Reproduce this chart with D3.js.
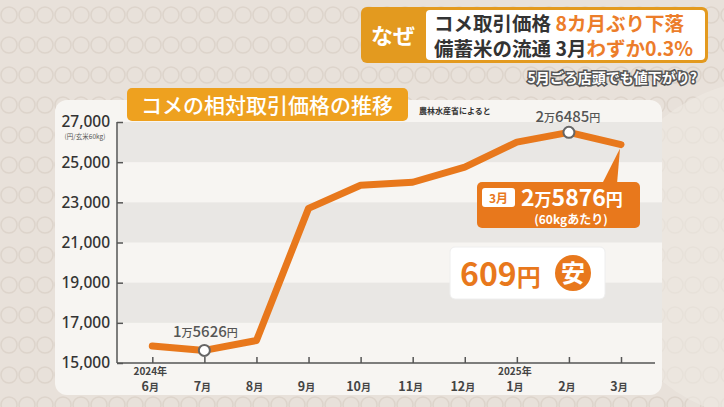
<!DOCTYPE html>
<html><head><meta charset="utf-8">
<script src="https://cdn.jsdelivr.net/npm/d3@7"></script>
<style>
html,body{margin:0;padding:0;background:#e9e3dc;}
svg{display:block;font-family:"Noto Sans CJK JP","Noto Sans",sans-serif;}
</style></head>
<body>
<svg id="c" width="724" height="407"></svg>
<script>
const months = ["6月","7月","8月","9月","10月","11月","12月","1月","2月","3月"];
const yearLabels = ["2024年","","","","","","","2025年","",""];
const prices = [15850, 15626, 16120, 22700, 23850, 24000, 24750, 26000, 26485, 25876];
const yTicks = [15000, 17000, 19000, 21000, 23000, 25000, 27000];
const markedIdx = [1, 8];

const svg = d3.select("#c");
const W = 724, H = 407;

// background
const defs = svg.append("defs");
const pat = defs.append("pattern").attr("id","circ").attr("width",36).attr("height",30).attr("patternUnits","userSpaceOnUse");
pat.append("rect").attr("width",36).attr("height",30).attr("fill","#e8e1da");
pat.append("circle").attr("cx",9).attr("cy",15).attr("r",8).attr("fill","none").attr("stroke","#ddd4cb").attr("stroke-width",1.5);
pat.append("circle").attr("cx",27).attr("cy",15).attr("r",8).attr("fill","none").attr("stroke","#ddd4cb").attr("stroke-width",1.5);
svg.append("rect").attr("width",W).attr("height",H).attr("fill","url(#circ)");
svg.append("circle").attr("cx",770).attr("cy",250).attr("r",170).attr("fill","#efe9e3").attr("opacity",0.6);

// panel
svg.append("rect").attr("x",55).attr("y",100).attr("width",607).attr("height",295).attr("rx",12)
  .attr("fill","#f7f5f2");

const x = d3.scalePoint().domain(d3.range(months.length)).range([152.3, 621]);
const y = d3.scaleLinear().domain([15000, 27000]).range([363, 122]);

// bands
for (let i = 0; i < yTicks.length - 1; i += 2) {
  const a = yTicks[yTicks.length - 1 - i], b = yTicks[yTicks.length - 2 - i];
  svg.append("rect").attr("x",118).attr("y",y(a)).attr("width",544).attr("height",y(b) - y(a))
    .attr("fill","#e9e7e4");
}

// axes
const yAxis = d3.axisLeft(y).tickValues(yTicks).tickSize(-6).tickPadding(8).tickFormat(d3.format(","));
const gy = svg.append("g").attr("transform","translate(117,0)").call(yAxis);
gy.select(".domain").attr("stroke","#555").attr("stroke-width",1.5).attr("d","M0,"+y(27000)+"V"+y(15000));
gy.selectAll(".tick line").attr("stroke","#555").attr("stroke-width",1.5);
gy.selectAll(".tick text").attr("font-size",15.5).attr("font-weight",500).attr("fill","#333")
  .attr("font-family","'Noto Sans','Noto Sans CJK JP',sans-serif").attr("x",-7);

const xAxis = d3.axisBottom(x).tickSize(-6).tickFormat(() => "");
const gx = svg.append("g").attr("transform","translate(0,363)").call(xAxis);
gx.select(".domain").attr("stroke","#555").attr("stroke-width",1.5).attr("d","M117,0H655");
gx.selectAll(".tick line").attr("stroke","#555").attr("stroke-width",1.5);

const xl = svg.append("g");
months.forEach((m, i) => {
  const t = xl.append("text").attr("x", x(i) - 2).attr("y", 391).attr("text-anchor","middle")
    .attr("font-size",12.5).attr("font-weight",700).attr("fill","#444");
  t.append("tspan").text(m.replace("月",""));
  t.append("tspan").attr("font-size",10).text("月");
  if (yearLabels[i]) {
    xl.append("text").attr("x", x(i) - 2).attr("y", 375).attr("text-anchor","middle")
      .attr("font-size",10).attr("font-weight",700).attr("fill","#444").text(yearLabels[i]);
  }
});

svg.append("text").attr("x",85).attr("y",139).attr("text-anchor","middle").attr("font-size",6.5)
  .attr("fill","#555").text("(円/玄米60kg)");

// line
const line = d3.line().x((d,i) => x(i)).y(d => y(d));
svg.append("path").datum(prices).attr("d", line).attr("fill","none")
  .attr("stroke","#e8781c").attr("stroke-width",7).attr("stroke-linejoin","round").attr("stroke-linecap","round");

markedIdx.forEach(i => {
  svg.append("circle").attr("cx", x(i)).attr("cy", y(prices[i])).attr("r",5.5)
    .attr("fill","#fff").attr("stroke","#666").attr("stroke-width",2);
});

function manLabel(txt, cx, cy) {
  const t = svg.append("text").attr("x",cx).attr("y",cy).attr("text-anchor","middle")
    .attr("font-size",15).attr("font-weight",500).attr("fill","#555");
  const parts = txt.match(/^(\d)万(\d+)円$/);
  t.append("tspan").text(parts[1]);
  t.append("tspan").attr("font-size",11).text("万");
  t.append("tspan").text(parts[2]);
  t.append("tspan").attr("font-size",11).text("円");
}
manLabel("1万5626円", x(1) + 1, 337);
manLabel("2万6485円", x(8) - 1, 122);

// title banner
svg.append("rect").attr("x",127).attr("y",88).attr("width",281).attr("height",33).attr("rx",5)
  .attr("fill","#eea11f");
svg.append("text").attr("x",267).attr("y",113).attr("text-anchor","middle").attr("font-size",21)
  .attr("font-weight",500).attr("fill","#fff").text("コメの相対取引価格の推移");
svg.append("text").attr("x",419).attr("y",114).attr("font-size",8).attr("font-weight",700)
  .attr("fill","#333").text("農林水産省によると");

// march callout
svg.append("path").attr("d",`M602,184 L${x(9)-1},${y(prices[9])+4} L617,184 Z`).attr("fill","#e8781c");
svg.append("rect").attr("x",477).attr("y",182).attr("width",163).attr("height",46).attr("rx",5).attr("fill","#e8781c");
svg.append("rect").attr("x",482).attr("y",188).attr("width",33).attr("height",19).attr("rx",3).attr("fill","#fff");
svg.append("text").attr("x",498.5).attr("y",202.5).attr("text-anchor","middle").attr("font-size",12)
  .attr("font-weight",700).attr("fill","#e8781c").text("3月");
const mt = svg.append("text").attr("x",521).attr("y",206).attr("font-size",23).attr("font-weight",700).attr("fill","#fff");
mt.append("tspan").text("2");
mt.append("tspan").attr("font-size",17).text("万");
mt.append("tspan").text("5876");
mt.append("tspan").attr("font-size",17).text("円");
svg.append("text").attr("x",571).attr("y",224).attr("text-anchor","middle").attr("font-size",12)
  .attr("font-weight",700).attr("fill","#fff").text("(60kgあたり)");

// 609 box
svg.append("rect").attr("x",450).attr("y",247).attr("width",155).attr("height",52).attr("rx",5)
  .attr("fill","#fff").attr("stroke","#eee");
const dt = svg.append("text").attr("x",460).attr("y",286).attr("font-size",32).attr("font-weight",700)
  .attr("fill","#e8781c");
dt.append("tspan").text("609");
dt.append("tspan").attr("font-size",24).text("円");
svg.append("circle").attr("cx",573).attr("cy",273).attr("r",18).attr("fill","#e8781c");
svg.append("text").attr("x",573).attr("y",282).attr("text-anchor","middle").attr("font-size",24)
  .attr("font-weight",700).attr("fill","#fff").text("安");

// header
svg.append("rect").attr("x",361).attr("y",7).attr("width",347).attr("height",56).attr("rx",6).attr("fill","#e39a1f");
svg.append("rect").attr("x",426).attr("y",10).attr("width",279).attr("height",50).attr("rx",4).attr("fill","#fff");
svg.append("text").attr("x",393).attr("y",44).attr("text-anchor","middle").attr("font-size",22)
  .attr("font-weight",700).attr("fill","#fff").text("なぜ");
const h1 = svg.append("text").attr("x",434).attr("y",31).attr("font-size",19.5).attr("font-weight",700);
h1.append("tspan").attr("fill","#333").text("コメ取引価格 ");
h1.append("tspan").attr("fill","#ec7d2a").text("8カ月ぶり下落");
const h2 = svg.append("text").attr("x",434).attr("y",56).attr("font-size",19.5).attr("font-weight",700);
h2.append("tspan").attr("fill","#333").text("備蓄米の流通 3月");
h2.append("tspan").attr("fill","#ec7d2a").text("わずか0.3%");

svg.append("text").attr("x",697).attr("y",83).attr("text-anchor","end").attr("font-size",14)
  .attr("font-weight",700).attr("fill","#fff").attr("stroke","#555").attr("stroke-width",3)
  .attr("paint-order","stroke").text("5月ごろ店頭でも値下がり?");
</script>
</body></html>
